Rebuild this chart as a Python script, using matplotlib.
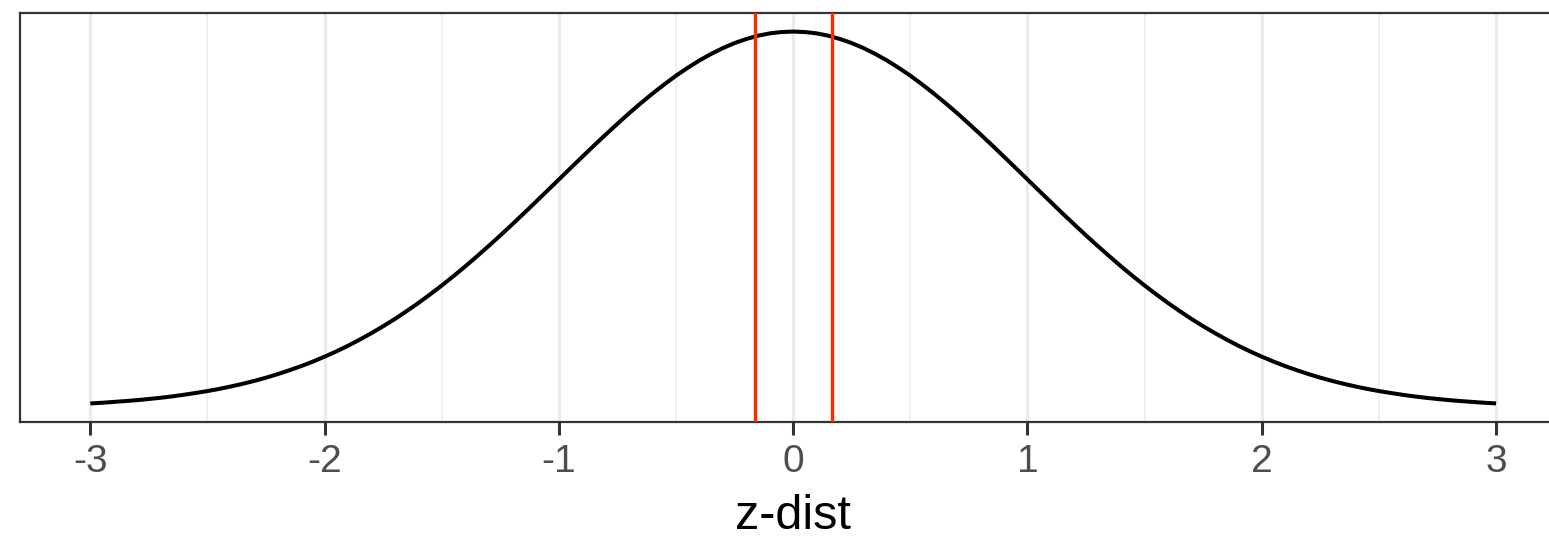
import matplotlib
matplotlib.use("Agg")
import matplotlib.pyplot as plt

# Data (density at 0.05 steps from 0 to 3; curve is symmetric)
density_half = [0.3989, 0.3984, 0.3970, 0.3945, 0.3910, 0.3867, 0.3814, 0.3752,
                0.3683, 0.3605, 0.3521, 0.3429, 0.3332, 0.3230, 0.3123, 0.3011,
                0.2897, 0.2780, 0.2661, 0.2541, 0.2420, 0.2299, 0.2179, 0.2059,
                0.1942, 0.1826, 0.1714, 0.1604, 0.1497, 0.1394, 0.1295, 0.1200,
                0.1109, 0.1023, 0.0940, 0.0863, 0.0790, 0.0721, 0.0656, 0.0596,
                0.0540, 0.0488, 0.0440, 0.0396, 0.0355, 0.0317, 0.0283, 0.0252,
                0.0224, 0.0198, 0.0175, 0.0155, 0.0136, 0.0119, 0.0104, 0.0091,
                0.0079, 0.0069, 0.0060, 0.0051, 0.0044]
z_values = [round(-3 + 0.05 * i, 2) for i in range(121)]
density = density_half[::-1] + density_half[1:]
red_lines = [-0.165, 0.165]
tick_values = [-3, -2, -1, 0, 1, 2, 3]
tick_labels = ["-3", "-2", "-1", "0", "1", "2", "3"]
minor_ticks = [-2.5, -1.5, -0.5, 0.5, 1.5, 2.5]
x_label = "z-dist"

plt.rcParams['font.family'] = ['Liberation Sans', 'DejaVu Sans']

W, H = 1549, 537
fig = plt.figure(figsize=(W / 100, H / 100), dpi=100)
left_px, top_px, bottom_px = 20, 13, 422
unit_px = 234.3
xmin, xmax = -3.3, 3.3
width_px = (xmax - xmin) * unit_px
ax = fig.add_axes([left_px / W, (H - bottom_px) / H, width_px / W, (bottom_px - top_px) / H])

ax.plot(z_values, density, color='black', lw=2.9, solid_capstyle='butt',
        solid_joinstyle='round', zorder=3)
for xv in red_lines:
    ax.axvline(xv, color='#FF2A00', lw=2.4, zorder=4)

ax.set_xlim(xmin, xmax)
ax.set_ylim(0.0044 - 0.0197, 0.3989 + 0.0197)
ax.set_xticks(tick_values)
ax.set_xticklabels(tick_labels)
ax.set_xticks(minor_ticks, minor=True)
ax.set_yticks([])
ax.grid(True, which='major', axis='x', color='#EBEBEB', lw=2.2, zorder=0)
ax.grid(True, which='minor', axis='x', color='#EBEBEB', lw=1.1, zorder=0)
ax.set_axisbelow(True)
ax.tick_params(axis='x', which='major', length=9, width=2.2, color='#333333',
               labelsize=28, labelcolor='#4D4D4D', pad=7)
ax.tick_params(axis='x', which='minor', length=0)
for sp in ax.spines.values():
    sp.set_color('#333333')
    sp.set_linewidth(1.6)
ax.set_xlabel(x_label, fontsize=35, color='black', labelpad=10)

fig.savefig("out.png", dpi=100)
